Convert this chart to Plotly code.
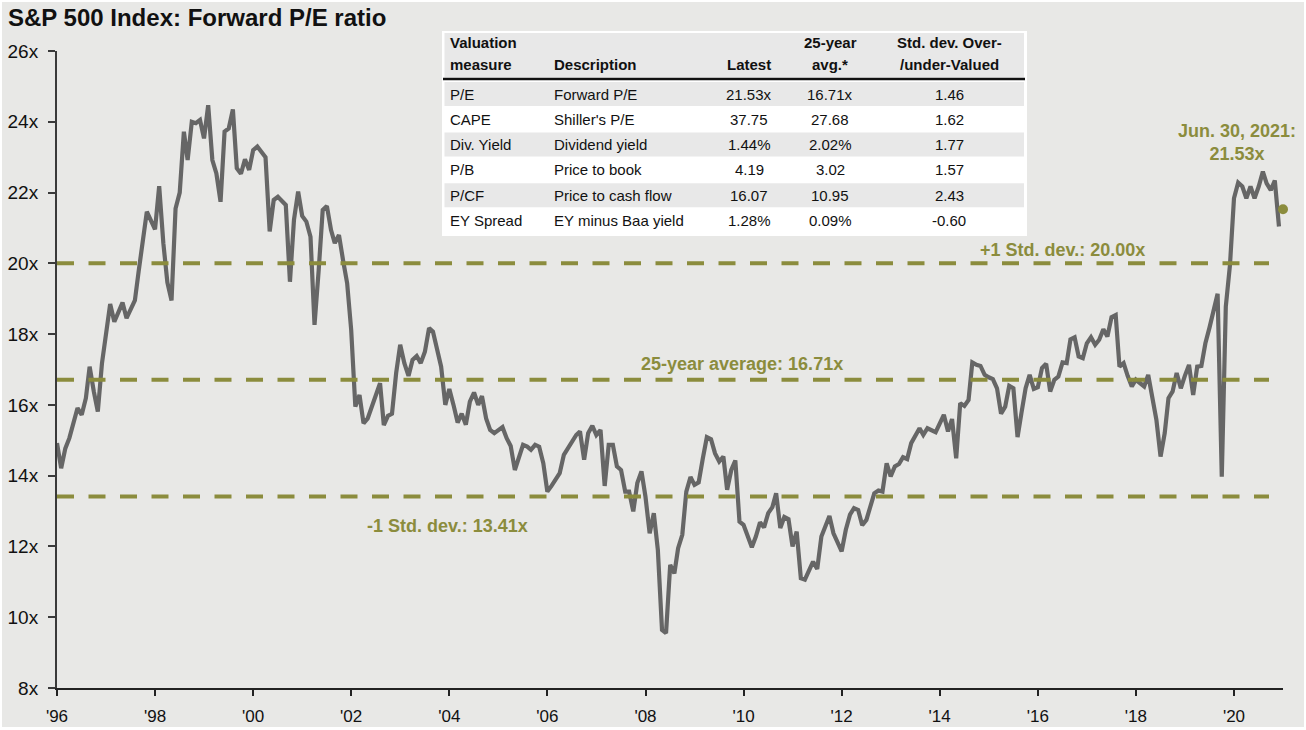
import plotly.graph_objects as go
import pandas as pd

# ---------------- data ----------------
series_start = "1996-06-30"          # first monthly observation (month-end)
month_offsets = [
    0, 1, 2, 3, 5, 6, 7, 8, 9, 10, 11, 12, 13, 14, 16, 17, 19, 20, 22,
    24, 25, 26, 27, 28, 29, 30, 31, 32, 33, 34, 35, 36, 37, 38, 39, 40, 41, 42, 43, 44, 45, 46, 47,
    48, 49, 51, 52, 53, 54, 56, 57, 58, 59, 60, 61, 62, 63, 64, 65, 66, 67, 68, 69, 70, 71,
    72, 73, 74, 75, 76, 77, 78, 79, 80, 81, 82, 83, 84, 85, 86, 87, 88, 89, 90, 91, 92, 93, 94, 95,
    96, 97, 98, 99, 100, 101, 102, 103, 104, 105, 106, 107, 109, 110, 111, 112, 113, 114, 115, 116, 117, 118, 119,
    120, 121, 123, 124, 125, 126, 127, 128, 129, 130, 131, 132, 133, 134, 135, 136, 137, 138, 139, 140, 141, 142, 143,
    144, 145, 146, 147, 148, 149, 150, 151, 152, 153, 154, 155, 156, 157, 158, 159, 160, 161, 162, 163, 164, 165, 166, 167,
    168, 170, 171, 172, 173, 174, 175, 176, 177, 178, 179, 180, 181, 182, 183, 185, 186, 187, 189, 190,
    192, 193, 194, 195, 196, 197, 198, 199, 200, 201, 202, 203, 204, 205, 206, 207, 208, 209, 211, 212, 213, 215,
    217, 218, 219, 220, 221, 222, 223, 224, 225, 226, 227, 228, 229, 230, 231, 232, 233, 234, 235, 236, 237, 238, 239,
    240, 241, 242, 243, 244, 245, 246, 247, 248, 249, 250, 251, 252, 253, 254, 255, 256, 257, 258, 259, 260, 261, 262, 263,
    264, 265, 266, 267, 268, 269, 270, 271, 272, 273, 274, 275, 276, 277, 278, 279, 280, 281, 282, 284, 285, 286, 287,
    288, 289, 290, 291, 292, 293, 294, 295, 296, 297, 298, 299,
]
forward_pe = [
    14.92, 14.21, 14.77, 15.06, 15.91, 15.72, 16.19, 17.08, 16.38, 15.81, 17.18, 17.93, 18.85, 18.35, 18.89, 18.45, 18.95, 19.77, 21.46,
    20.96, 22.18, 20.57, 19.46, 18.95, 21.55, 22.00, 23.72, 22.92, 24.00, 23.96, 24.05, 23.53, 24.47, 22.92, 22.54, 21.74, 23.72, 23.81, 24.35, 22.69, 22.53, 22.94, 22.64,
    23.20, 23.30, 23.00, 20.90, 21.79, 21.88, 21.65, 19.48, 21.23, 22.03, 21.34, 21.18, 20.75, 18.26, 19.81, 21.51, 21.62, 20.94, 20.57, 20.80, 20.10, 19.44,
    18.12, 15.95, 16.28, 15.48, 15.62, 15.95, 16.24, 16.61, 15.43, 15.69, 15.75, 16.90, 17.70, 17.18, 16.82, 17.27, 17.38, 17.18, 17.50, 18.17, 18.07, 17.55, 17.08, 16.00,
    16.45, 16.00, 15.50, 15.75, 15.44, 16.09, 16.35, 16.00, 16.25, 15.62, 15.29, 15.20, 15.37, 15.06, 14.84, 14.16, 14.54, 14.87, 14.82, 14.73, 14.87, 14.82, 14.35,
    13.55, 13.71, 14.07, 14.59, 14.78, 14.92, 15.15, 15.25, 14.45, 15.20, 15.41, 15.15, 15.29, 13.71, 14.87, 14.87, 14.26, 14.16, 13.55, 13.55, 12.99, 13.79, 14.12,
    13.40, 12.37, 12.94, 11.90, 9.64, 9.55, 11.48, 11.24, 11.95, 12.33, 13.55, 13.96, 13.74, 13.81, 14.49, 15.09, 15.03, 14.63, 14.40, 14.54, 13.60, 14.16, 14.43, 12.70,
    12.61, 11.98, 12.28, 12.68, 12.54, 12.94, 13.11, 13.50, 12.52, 12.83, 12.77, 12.00, 12.42, 11.10, 11.06, 11.57, 11.36, 12.28, 12.86, 12.37,
    11.86, 12.47, 12.90, 13.08, 13.03, 12.60, 12.75, 13.10, 13.50, 13.58, 13.55, 14.35, 13.98, 14.26, 14.33, 14.52, 14.47, 14.92, 15.34, 15.15, 15.34, 15.23,
    15.72, 15.25, 15.60, 14.49, 16.05, 15.97, 16.14, 17.20, 17.13, 17.10, 16.85, 16.78, 16.73, 16.47, 15.75, 15.95, 16.54, 16.47, 15.09, 15.77, 16.47, 16.85, 16.45,
    16.50, 17.04, 17.16, 16.38, 16.71, 16.80, 17.20, 17.18, 17.85, 17.91, 17.37, 17.32, 17.74, 17.91, 17.70, 17.84, 18.14, 17.93, 18.48, 18.54, 17.08, 17.18, 16.82, 16.52,
    16.71, 16.63, 16.52, 16.85, 16.19, 15.58, 14.54, 15.20, 16.19, 16.38, 16.90, 16.47, 16.82, 17.13, 16.28, 17.08, 17.10, 17.74, 18.19, 19.14, 13.97, 18.78, 19.95,
    21.84, 22.28, 22.17, 21.84, 22.17, 21.84, 22.17, 22.59, 22.26, 22.07, 22.34, 21.04,
]
latest_date = "2021-06-30"
latest_pe = 21.53
latest_label = "Jun. 30, 2021:"
plus1_sd = 20.00
avg_25y = 16.71
minus1_sd = 13.41

tick_years = [1996, 1998, 2000, 2002, 2004, 2006, 2008, 2010, 2012, 2014, 2016, 2018, 2020]
tick_labels = ["'96", "'98", "'00", "'02", "'04", "'06", "'08", "'10", "'12", "'14", "'16", "'18", "'20"]
y_ticks = [8, 10, 12, 14, 16, 18, 20, 22, 24, 26]

# valuation table
measures = ["P/E", "CAPE", "Div. Yield", "P/B", "P/CF", "EY Spread"]
descriptions = ["Forward P/E", "Shiller's P/E", "Dividend yield", "Price to book",
                "Price to cash flow", "EY minus Baa yield"]
latest_vals = ["21.53x", "37.75", "1.44%", "4.19", "16.07", "1.28%"]
avg_vals = ["16.71x", "27.68", "2.02%", "3.02", "10.95", "0.09%"]
sd_vals = ["1.46", "1.62", "1.77", "1.57", "2.43", "-0.60"]
header_top = ["Valuation", "", "", "25-year", "Std. dev. Over-"]
header_bottom = ["measure", "Description", "Latest", "avg.*", "/under-Valued"]

# ---------------- layout helpers ----------------
W, H = 1306, 730
ML, MR, MT, MB = 57, 23, 51, 42
PW, PH = W - ML - MR, H - MT - MB


def fx(px):
    return (px - ML) / PW


def fy(py):
    return (H - MB - py) / PH


FONT = "Liberation Sans, Arial, Helvetica, sans-serif"
OLIVE = "#8b8c3d"
LINE_GREY = "#666666"
BG = "#e8e8e6"

start = pd.Timestamp(series_start)
dates = [start + pd.offsets.MonthEnd(k) for k in month_offsets]
tick_dates = [pd.Timestamp(f"{y}-06-30") for y in tick_years]

fig = go.Figure()
fig.add_trace(go.Scatter(
    x=dates, y=forward_pe, mode="lines",
    line=dict(color=LINE_GREY, width=4.2), hoverinfo="skip", showlegend=False,
))
fig.add_trace(go.Scatter(
    x=[pd.Timestamp(latest_date)], y=[latest_pe], mode="markers",
    marker=dict(color=OLIVE, size=10), cliponaxis=False, showlegend=False,
))

shapes = []
# background with thin white border
shapes.append(dict(type="rect", xref="paper", yref="paper", layer="below",
                   x0=fx(2), x1=fx(W - 2), y0=fy(H - 3), y1=fy(2),
                   fillcolor=BG, line=dict(width=0)))
# reference lines
for val in [plus1_sd, avg_25y, minus1_sd]:
    shapes.append(dict(type="line", xref="paper", yref="y", x0=fx(ML), x1=fx(1269),
                       y0=val, y1=val, line=dict(color=OLIVE, width=4, dash="17px,14.5px")))

# table box
TL, TR, TT, TB = 442, 1027, 31, 236
shapes.append(dict(type="rect", xref="paper", yref="paper", x0=fx(TL), x1=fx(TR),
                   y0=fy(TB), y1=fy(TT), fillcolor="white", line=dict(width=0)))
BAND = "#e8e8e8"
shapes.append(dict(type="rect", xref="paper", yref="paper", x0=fx(TL + 2.5), x1=fx(TR - 3),
                   y0=fy(77.5), y1=fy(33), fillcolor=BAND, line=dict(width=0)))
row_pitch = 25.3
row_center0 = 94.0
for i in range(len(measures)):
    if i % 2 == 0:
        c = row_center0 + i * row_pitch
        shapes.append(dict(type="rect", xref="paper", yref="paper", x0=fx(TL + 2.5), x1=fx(TR - 3),
                           y0=fy(c + 12), y1=fy(c - 12), fillcolor=BAND, line=dict(width=0)))
shapes.append(dict(type="line", xref="paper", yref="paper", x0=fx(TL + 1), x1=fx(TR - 2),
                   y0=fy(79), y1=fy(79), line=dict(color="#111111", width=2.6)))

annotations = []
# title
annotations.append(dict(xref="paper", yref="paper", x=fx(6), y=fy(18), xanchor="left", yanchor="middle",
                        text="S&P 500 Index: Forward P/E ratio", showarrow=False,
                        font=dict(family=FONT, size=24, color="#111111", weight="bold")))

# line labels
lab_font = dict(family=FONT, size=18, color=OLIVE, weight="bold")
annotations.append(dict(xref="paper", yref="paper", x=fx(1062), y=fy(250), xanchor="center", yanchor="middle",
                        text=f"+1 Std. dev.: {plus1_sd:.2f}x", showarrow=False, font=lab_font))
annotations.append(dict(xref="paper", yref="paper", x=fx(742), y=fy(364), xanchor="center", yanchor="middle",
                        text=f"25-year average: {avg_25y:.2f}x", showarrow=False, font=lab_font))
annotations.append(dict(xref="paper", yref="paper", x=fx(447), y=fy(526), xanchor="center", yanchor="middle",
                        text=f"-1 Std. dev.: {minus1_sd:.2f}x", showarrow=False, font=lab_font))
annotations.append(dict(xref="paper", yref="paper", x=fx(1237), y=fy(143), xanchor="center", yanchor="middle",
                        text=f"{latest_label}<br>{latest_pe:.2f}x", showarrow=False, font=lab_font))

# table text
col_x = [448, 552, 749, 830, 949]
col_anchor = ["left", "left", "center", "center", "center"]
hdr_font = dict(family=FONT, size=15, color="#111111", weight="bold")
body_font = dict(family=FONT, size=15, color="#111111")
for j in range(5):
    if header_top[j]:
        annotations.append(dict(xref="paper", yref="paper", x=fx(col_x[j]), y=fy(42), xanchor=col_anchor[j],
                                yanchor="middle", text=header_top[j], showarrow=False, font=hdr_font))
    annotations.append(dict(xref="paper", yref="paper", x=fx(col_x[j]), y=fy(64), xanchor=col_anchor[j],
                            yanchor="middle", text=header_bottom[j], showarrow=False, font=hdr_font))
columns = [measures, descriptions, latest_vals, avg_vals, sd_vals]
for i in range(len(measures)):
    cy = row_center0 + i * row_pitch
    for j in range(5):
        annotations.append(dict(xref="paper", yref="paper", x=fx(col_x[j]), y=fy(cy), xanchor=col_anchor[j],
                                yanchor="middle", text=columns[j][i], showarrow=False, font=body_font))

fig.update_layout(
    width=W, height=H,
    margin=dict(l=ML, r=MR, t=MT, b=MB, autoexpand=False),
    paper_bgcolor="white", plot_bgcolor="rgba(0,0,0,0)",
    showlegend=False,
    shapes=shapes, annotations=annotations,
    xaxis=dict(type="date", range=[start, pd.Timestamp(latest_date)], automargin=False,
               tickmode="array", tickvals=tick_dates, ticktext=tick_labels,
               showgrid=False, zeroline=False, showline=True, linecolor="#222222", linewidth=2,
               ticks="outside", ticklen=6, tickwidth=1.5, tickcolor="#222222",
               tickfont=dict(family=FONT, size=17, color="#111111"), ticklabelstandoff=6),
    yaxis=dict(range=[8, 26], tickmode="array", tickvals=y_ticks, automargin=False,
               ticktext=[f"{v}x" for v in y_ticks],
               showgrid=False, zeroline=False, showline=True, linecolor="#3a3a3a", linewidth=2,
               ticks="outside", ticklen=7, tickwidth=1.5, tickcolor="#3a3a3a",
               tickfont=dict(family=FONT, size=19, color="#111111"), ticklabelstandoff=6),
)

fig.write_html(
    "out.html",
    config={"displayModeBar": False},
    post_script="document.body.style.margin='0px';document.body.style.overflow='hidden';",
)
